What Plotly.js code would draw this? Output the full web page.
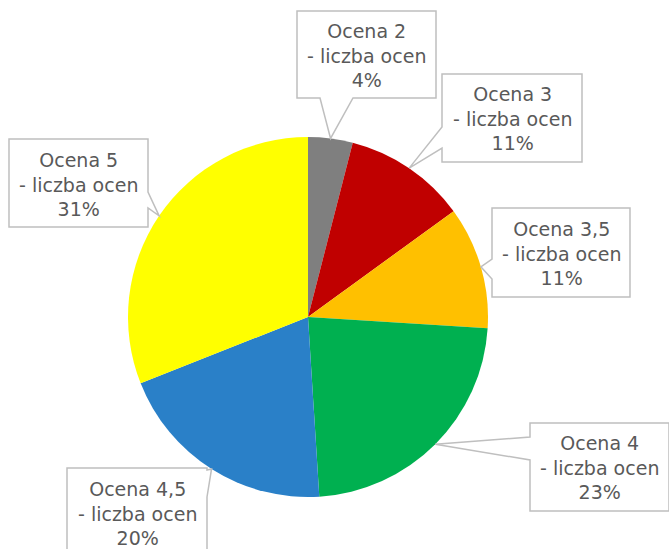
<!DOCTYPE html>
<html><head><meta charset="utf-8">
<script src="https://cdn.plot.ly/plotly-3.0.1.min.js"></script>
<style>html,body{margin:0;padding:0;background:#fff}#chart{width:669px;height:549px}</style>
</head><body><div id="chart"></div>
<script>
const categories = ["Ocena 2", "Ocena 3", "Ocena 3,5", "Ocena 4", "Ocena 4,5", "Ocena 5"];
const values = [4, 11, 11, 23, 20, 31];
const colors = ["#7F7F7F", "#C00000", "#FFC000", "#00B050", "#2A80C8", "#FFFF00"];
const seriesName = "liczba ocen";

const W = 669, H = 549;
const CX = 308, CY = 317, R = 180;
// callout boxes [left, top, right, bottom] and side where pointer attaches, pointer span
const boxes = [
  {b:[297,11,436,98], side:'bottom', s:[320,353]},
  {b:[442,74,582,162], side:'left', s:[127,148]},
  {b:[492,208,630,297], side:'left', s:[259,279]},
  {b:[530,423,669,511], side:'left', s:[437,460]},
  {b:[67,468,207,556], side:'right', s:[470,497]},
  {b:[9,139,148,227], side:'right', s:[192,208]}
];
const px = x => x / W, py = y => 1 - y / H;
const P = (x, y) => px(x).toFixed(5) + ',' + py(y).toFixed(5);

const total = values.reduce((a, b) => a + b, 0);
let cum = 0;
const shapes = [], annotations = [];
values.forEach((v, i) => {
  const mid = (cum + v / 2) / total * 2 * Math.PI;
  cum += v;
  const tx = CX + R * Math.sin(mid), ty = CY - R * Math.cos(mid);
  const bx = boxes[i], [l, t, r, b] = bx.b, [s0, s1] = bx.s;
  let d;
  if (bx.side === 'bottom') {
    d = `M${P(l,t)} L${P(r,t)} L${P(r,b)} L${P(s1,b)} L${P(tx,ty)} L${P(s0,b)} L${P(l,b)} Z`;
  } else if (bx.side === 'left') {
    d = `M${P(l,t)} L${P(r,t)} L${P(r,b)} L${P(l,b)} L${P(l,s1)} L${P(tx,ty)} L${P(l,s0)} Z`;
  } else {
    d = `M${P(l,t)} L${P(r,t)} L${P(r,s0)} L${P(tx,ty)} L${P(r,s1)} L${P(r,b)} L${P(l,b)} Z`;
  }
  shapes.push({type:'path', xref:'paper', yref:'paper', path:d,
    fillcolor:'#FFFFFF', line:{color:'#BFBFBF', width:1.5}, layer:'above'});
  annotations.push({xref:'paper', yref:'paper', x:px((l + r) / 2), y:py((t + b) / 2 + 1),
    xanchor:'center', yanchor:'middle', showarrow:false, align:'center',
    text: categories[i] + '<br>- ' + seriesName + '<br>' + Math.round(v / total * 100) + '%',
    font:{family:'DejaVu Sans, sans-serif', size:19, color:'#595959'}});
});

const data = [{
  type:'pie', labels:categories, values:values, sort:false, direction:'clockwise',
  rotation:0, marker:{colors:colors, line:{width:0}}, textinfo:'none', hoverinfo:'label+percent',
  domain:{x:[px(CX - R), px(CX + R)], y:[py(CY + R), py(CY - R)]}, automargin:false
}];
const layout = {
  width:W, height:H, margin:{l:0, r:0, t:0, b:0}, showlegend:false,
  paper_bgcolor:'#FFFFFF', plot_bgcolor:'#FFFFFF', shapes:shapes, annotations:annotations
};
Plotly.newPlot('chart', data, layout, {displayModeBar:false, staticPlot:true});
</script></body></html>
